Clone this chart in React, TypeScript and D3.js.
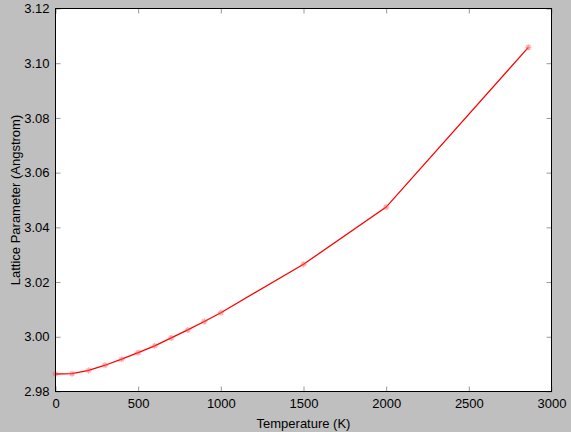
import React, { useEffect, useRef } from 'react';
import * as d3 from 'd3';

// temperature (K) and lattice parameter (Angstrom)
const temps = [0, 100, 200, 300, 400, 500, 600, 700, 800, 900, 1000, 1500, 2000, 2860];
const lattice = [2.9864, 2.9865, 2.9877, 2.9896, 2.9918, 2.9942, 2.9967, 2.9996, 3.0025, 3.0056, 3.0088, 3.0265, 3.0474, 3.1058];

const xTicks = [0, 500, 1000, 1500, 2000, 2500, 3000];
const yTicks = [2.98, 3.0, 3.02, 3.04, 3.06, 3.08, 3.1, 3.12];

const App: React.FC = () => {
  const svgRef = useRef<SVGSVGElement>(null);

  useEffect(() => {
    if (!svgRef.current) return;
    const svg = d3.select(svgRef.current);
    svg.selectAll('*').remove();

    const width = 571;
    const height = 432;
    const m = { left: 55.5, right: 19.5, top: 8.5, bottom: 40.5 };
    const w = width - m.left - m.right;
    const h = height - m.top - m.bottom;
    const font = 'Liberation Sans, Arial, Helvetica, sans-serif';

    svg.append('rect').attr('width', width).attr('height', height).attr('fill', '#bfbfbf');

    const g = svg.append('g').attr('transform', `translate(${m.left},${m.top})`);
    g.append('rect').attr('width', w).attr('height', h).attr('fill', '#fff');

    const x = d3.scaleLinear().domain([0, 3000]).range([0, w]);
    const y = d3.scaleLinear().domain([2.98, 3.12]).range([h, 0]);

    const styleAxis = (sel: any) => {
      sel.select('.domain').remove();
      sel.selectAll('line').attr('stroke', '#999').attr('stroke-width', 1);
      sel.selectAll('text').attr('fill', '#000').style('font-family', font).style('font-size', '13px');
    };

    g.append('g').attr('transform', `translate(0,${h})`)
      .call(d3.axisBottom(x).tickValues(xTicks).tickFormat(d3.format('d')).tickSize(-5).tickPadding(7))
      .call(styleAxis);
    g.append('g')
      .call(d3.axisTop(x).tickValues(xTicks).tickFormat(() => '').tickSize(-5))
      .call(styleAxis);
    g.append('g')
      .call(d3.axisLeft(y).tickValues(yTicks).tickFormat(d3.format('.2f')).tickSize(-5).tickPadding(6))
      .call(styleAxis);
    g.append('g').attr('transform', `translate(${w},0)`)
      .call(d3.axisRight(y).tickValues(yTicks).tickFormat(() => '').tickSize(-5))
      .call(styleAxis);

    const pts = temps.map((t, i) => [t, lattice[i]] as [number, number]);

    const line = d3.line<[number, number]>()
      .x(d => x(d[0]))
      .y(d => y(d[1]));

    g.append('path')
      .datum(pts)
      .attr('d', line)
      .attr('fill', 'none')
      .attr('stroke', '#ff0000')
      .attr('stroke-width', 1.3);

    const s = 3;
    const markers = g.append('g')
      .attr('stroke', 'rgba(255,80,80,0.5)')
      .attr('stroke-width', 1.3);
    pts.forEach(d => {
      const cx = x(d[0]);
      const cy = y(d[1]);
      markers.append('path')
        .attr('d', `M${cx - s},${cy}H${cx + s}M${cx},${cy - s}V${cy + s}M${cx - s * 0.7},${cy - s * 0.7}L${cx + s * 0.7},${cy + s * 0.7}M${cx - s * 0.7},${cy + s * 0.7}L${cx + s * 0.7},${cy - s * 0.7}`);
    });

    g.append('rect').attr('width', w).attr('height', h)
      .attr('fill', 'none').attr('stroke', '#000').attr('stroke-width', 1);

    svg.append('text')
      .attr('x', m.left + w / 2)
      .attr('y', 428)
      .attr('text-anchor', 'middle')
      .style('font-family', font)
      .style('font-size', '13px')
      .text('Temperature (K)');

    svg.append('text')
      .attr('transform', `translate(20,${m.top + h / 2}) rotate(-90)`)
      .attr('text-anchor', 'middle')
      .style('font-family', font)
      .style('font-size', '13px')
      .text('Lattice Parameter (Angstrom)');
  }, []);

  return (
    <svg ref={svgRef} width={571} height={432}
      style={{ position: 'absolute', left: 0, top: 0, display: 'block' }} />
  );
};

export default App;
